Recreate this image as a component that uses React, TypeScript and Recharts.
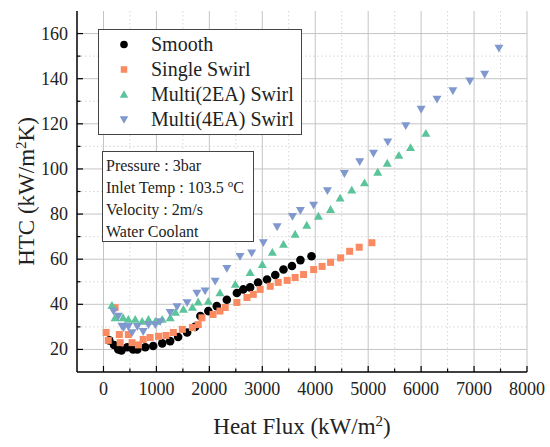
//
// HTC vs Heat Flux scatter chart
//
import React from 'react';
import {
  CartesianGrid,
  Label,
  Legend,
  Scatter,
  ScatterChart,
  XAxis,
  YAxis,
} from 'recharts';

// axis ticks
const xMajor = [0, 1000, 2000, 3000, 4000, 5000, 6000, 7000, 8000];
const xMinor = [500, 1500, 2500, 3500, 4500, 5500, 6500, 7500];
const yMajor = [20, 40, 60, 80, 100, 120, 140, 160];
const yMinor = [30, 50, 70, 90, 110, 130, 150];

// Smooth
const smoothFlux = [110, 200, 280, 340, 450, 560, 640, 790, 940, 1110, 1260, 1410, 1580, 1730, 1830, 1980, 2140, 2330, 2520, 2640, 2770, 2920, 3090, 3245, 3400, 3560, 3720, 3930];
const smoothHtc = [24, 22, 20, 19.5, 21, 20, 20, 21, 21.5, 22.7, 23.7, 25.5, 27.5, 30, 34.8, 37, 39.2, 42, 45, 46.6, 47.5, 49.7, 51, 53, 55.4, 57, 59.6, 61.3];

// Single Swirl
const singleFlux = [50, 90, 220, 300, 315, 470, 540, 660, 750, 880, 1040, 1180, 1320, 1490, 1680, 1790, 1860, 2070, 2200, 2300, 2520, 2710, 2830, 2960, 3150, 3300, 3470, 3620, 3780, 3970, 4130, 4290, 4480, 4650, 4830, 5070];
const singleHtc = [27.5, 24, 38.5, 26.6, 23, 26.6, 23, 22, 24.4, 25.3, 25.8, 26.2, 27.5, 28.9, 29.7, 31, 34, 35.5, 37, 38.6, 40.8, 43, 44.4, 46.6, 48, 49.7, 50.6, 51.9, 53.2, 55.4, 56.8, 58.6, 60.6, 63.5, 65.3, 67.3];

// Multi(2EA) Swirl
const multi2Flux = [160, 220, 370, 470, 600, 730, 850, 980, 1110, 1260, 1360, 1510, 1680, 1790, 1980, 2200, 2490, 2770, 3000, 3190, 3400, 3620, 3840, 4060, 4290, 4470, 4690, 4930, 5180, 5360, 5580, 5800, 6090];
const multi2Htc = [39.5, 34, 34, 33.3, 33.3, 32.4, 33.3, 32.4, 33.3, 34, 36.4, 37.7, 38.6, 41, 41.3, 45, 48.8, 54, 57.6, 63, 66.5, 71, 75, 79, 82, 87, 90.6, 93.8, 98.5, 102.5, 106, 109.4, 115.7];

// Multi(4EA) Swirl
const multi4Flux = [190, 280, 350, 380, 470, 540, 640, 750, 850, 980, 1070, 1260, 1390, 1580, 1765, 1920, 2110, 2330, 2580, 2800, 3020, 3280, 3570, 3720, 3970, 4230, 4550, 4840, 5100, 5370, 5710, 6000, 6300, 6600, 6920, 7200, 7470];
const multi4Htc = [37, 34.8, 30.3, 29.7, 30.2, 27.5, 30.2, 28, 31, 31, 32.4, 36.4, 39, 40.8, 45, 46, 50.3, 56, 61.3, 62.8, 67.4, 74.4, 79, 81.7, 84, 90.4, 98, 103.3, 107, 112, 119.2, 126.5, 131, 134.7, 139, 142, 153.6];

const toPoints = (xs: number[], ys: number[]) => xs.map((x, i) => ({ x, y: ys[i] }));

const FONT = "'Times New Roman', 'Liberation Serif', serif";

const COLORS = {
  smooth: '#000000',
  single: '#F98A62',
  multi2: '#5CC49A',
  multi4: '#7F99CF',
};

// マーカー
const Circle = ({ cx, cy, r = 4.3, fill }: any) => <circle cx={cx} cy={cy} r={r} fill={fill} />;
const Square = ({ cx, cy, s = 7, fill }: any) => <rect x={cx - s / 2} y={cy - s / 2} width={s} height={s} fill={fill} />;
const TriUp = ({ cx, cy, s = 9, fill }: any) => (
  <path d={`M${cx},${cy - s * 0.5} L${cx + s / 2},${cy + s * 0.37} L${cx - s / 2},${cy + s * 0.37} Z`} fill={fill} />
);
const TriDown = ({ cx, cy, s = 9, fill }: any) => (
  <path d={`M${cx},${cy + s * 0.5} L${cx + s / 2},${cy - s * 0.37} L${cx - s / 2},${cy - s * 0.37} Z`} fill={fill} />
);

const series = [
  { name: 'Smooth', color: COLORS.smooth, data: toPoints(smoothFlux, smoothHtc), Shape: Circle },
  { name: 'Single Swirl', color: COLORS.single, data: toPoints(singleFlux, singleHtc), Shape: Square },
  { name: 'Multi(2EA) Swirl', color: COLORS.multi2, data: toPoints(multi2Flux, multi2Htc), Shape: TriUp },
  { name: 'Multi(4EA) Swirl', color: COLORS.multi4, data: toPoints(multi4Flux, multi4Htc), Shape: TriDown },
];

// 目盛り（内向き）
const BottomTick = ({ x, y, payload }: any) => {
  const major = xMajor.includes(payload.value);
  return (
    <g>
      <line x1={x} y1={y} x2={x} y2={y - (major ? 6 : 3.5)} stroke="#000" strokeWidth={1.2} />
      {major && (
        <text x={x} y={y + 23} textAnchor="middle" fontSize={18} fill="#222" fontFamily={FONT}>
          {payload.value}
        </text>
      )}
    </g>
  );
};

const TopTick = ({ x, y, payload }: any) => {
  const major = xMajor.includes(payload.value);
  return <line x1={x} y1={y} x2={x} y2={y + (major ? 6 : 3.5)} stroke="#000" strokeWidth={1.2} />;
};

const LeftTick = ({ x, y, payload }: any) => {
  const major = yMajor.includes(payload.value);
  return (
    <g>
      <line x1={x} y1={y} x2={x + (major ? 6 : 3.5)} y2={y} stroke="#000" strokeWidth={1.2} />
      {major && (
        <text x={x - 9} y={y + 6} textAnchor="end" fontSize={18} fill="#222" fontFamily={FONT}>
          {payload.value}
        </text>
      )}
    </g>
  );
};

const RightTick = ({ x, y, payload }: any) => {
  const major = yMajor.includes(payload.value);
  return <line x1={x} y1={y} x2={x - (major ? 6 : 3.5)} y2={y} stroke="#000" strokeWidth={1.2} />;
};

const XTitle = ({ viewBox }: any) => (
  <text x={viewBox.x + viewBox.width / 2} y={viewBox.y + 62} textAnchor="middle" fontSize={23} fill="#222" fontFamily={FONT}>
    Heat Flux (kW/m<tspan baselineShift="super" fontSize={15}>2</tspan>)
  </text>
);

const YTitle = ({ viewBox }: any) => {
  const cx = 34;
  const cy = viewBox.y + viewBox.height / 2;
  return (
    <text x={cx} y={cy} transform={`rotate(-90 ${cx} ${cy})`} textAnchor="middle" fontSize={23} fill="#222" fontFamily={FONT}>
      HTC (kW/m<tspan baselineShift="super" fontSize={15}>2</tspan>K)
    </text>
  );
};

const LegendBox = () => (
  <div
    style={{
      border: '1px solid #444',
      background: '#fff',
      width: 202,
      height: 102,
      paddingTop: 2,
      boxSizing: 'content-box',
      fontFamily: FONT,
      fontSize: 20,
      color: '#222',
    }}
  >
    {series.map((s) => (
      <div key={s.name} style={{ display: 'flex', alignItems: 'center', height: 25 }}>
        <svg width={52} height={25}>
          <s.Shape cx={25} cy={12.5} fill={s.color} r={3.8} s={s.Shape === Square ? 6.5 : 8.5} />
        </svg>
        <span style={{ lineHeight: '25px' }}>{s.name}</span>
      </div>
    ))}
  </div>
);

function App() {
  return (
    <div style={{ position: 'absolute', left: 0, top: 0, width: 550, height: 447, background: '#fff' }}>
      <ScatterChart width={550} height={447} margin={{ top: 11, right: 23, left: 0, bottom: 0 }}>
        <CartesianGrid
          stroke="#d6d6d6"
          strokeDasharray="1.5 2.5"
          verticalValues={xMinor}
          horizontalValues={yMinor}
        />
        <CartesianGrid stroke="#c4c4c4" verticalValues={xMajor} horizontalValues={yMajor} />
        <XAxis
          type="number"
          dataKey="x"
          domain={[-500, 8000]}
          ticks={[...xMajor, ...xMinor].sort((a, b) => a - b)}
          interval={0}
          allowDataOverflow
          height={75}
          tickSize={0}
          tickMargin={0}
          tickLine={false}
          tick={<BottomTick />}
          axisLine={{ stroke: '#000', strokeWidth: 1.5 }}
        >
          <Label content={<XTitle />} />
        </XAxis>
        <XAxis
          xAxisId="top"
          orientation="top"
          type="number"
          domain={[-500, 8000]}
          ticks={[...xMajor, ...xMinor].sort((a, b) => a - b)}
          interval={0}
          allowDataOverflow
          height={0}
          tickSize={0}
          tickMargin={0}
          tickLine={false}
          tick={<TopTick />}
          axisLine={{ stroke: '#000', strokeWidth: 1.5 }}
        />
        <YAxis
          type="number"
          dataKey="y"
          domain={[10, 170]}
          ticks={[...yMajor, ...yMinor].sort((a, b) => a - b)}
          interval={0}
          allowDataOverflow
          width={77}
          tickSize={0}
          tickMargin={0}
          tickLine={false}
          tick={<LeftTick />}
          axisLine={{ stroke: '#000', strokeWidth: 1.5 }}
        >
          <Label content={<YTitle />} />
        </YAxis>
        <YAxis
          yAxisId="right"
          orientation="right"
          type="number"
          domain={[10, 170]}
          ticks={[...yMajor, ...yMinor].sort((a, b) => a - b)}
          interval={0}
          allowDataOverflow
          width={0}
          tickSize={0}
          tickMargin={0}
          tickLine={false}
          tick={<RightTick />}
          axisLine={{ stroke: '#000', strokeWidth: 1.5 }}
        />
        {series.map((s) => (
          <Scatter
            key={s.name}
            name={s.name}
            data={s.data}
            fill={s.color}
            isAnimationActive={false}
            shape={(p: any) => <s.Shape cx={p.cx} cy={p.cy} fill={s.color} />}
          />
        ))}
        <Legend
          layout="vertical"
          align="center"
          verticalAlign="middle"
          content={<LegendBox />}
          wrapperStyle={{ left: 98, top: 29, width: 'auto', height: 'auto' }}
        />
      </ScatterChart>
      <div
        style={{
          position: 'absolute',
          left: 102,
          top: 151,
          width: 147,
          height: 86,
          paddingTop: 3,
          paddingLeft: 3,
          boxSizing: 'content-box',
          border: '1px solid #444',
          background: '#fff',
          fontFamily: FONT,
          fontSize: 16,
          lineHeight: '22px',
          color: '#222',
        }}
      >
        <div>Pressure : 3bar</div>
        <div>
          Inlet Temp : 103.5 <sup style={{ fontSize: 11, lineHeight: 0 }}>o</sup>C
        </div>
        <div>Velocity : 2m/s</div>
        <div>Water Coolant</div>
      </div>
    </div>
  );
}

export default App;
